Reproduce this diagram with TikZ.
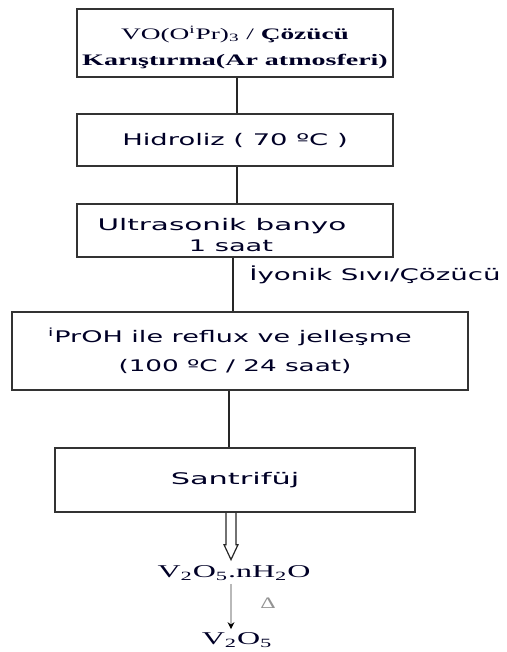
\documentclass[tikz,border=0pt]{standalone}
\usepackage{fontspec}
\setmainfont{Liberation Serif}
\newfontfamily\boxfont{DejaVu Sans}
\usepackage{graphicx}
\usetikzlibrary{arrows.meta}
\newcommand{\wide}[2][1.7]{\scalebox{#1}[1]{#2}}
\begin{document}
\begin{tikzpicture}[x=1pt,y=-1pt,
  stepbox/.style={draw=black!80,line width=1.3pt,inner sep=0pt,align=center,text=black!85!blue},
  sansbig/.style={font=\boxfont\fontsize{16}{19}\selectfont},
  link/.style={draw=black!85,line width=1.3pt}]
\useasboundingbox (0,0) rectangle (506,652);
% process boxes:
\node[stepbox,minimum width=316pt,minimum height=68pt,font=\fontsize{16}{19}\selectfont] (mix) at (235,43)
  {\rule{0pt}{22pt}\wide[1.71]{VO(O\textsuperscript{i}Pr)\textsubscript{3} / \textbf{Çözücü}}\\[7pt]\wide[1.75]{\textbf{Karıştırma(Ar atmosferi)}}};
\node[stepbox,sansbig,minimum width=316pt,minimum height=52pt] (hydro) at (235,140)
  {\wide[1.71]{Hidroliz ( 70 ºC )}};
\node[stepbox,sansbig,minimum width=316pt,minimum height=53pt] (ultra) at (235,230.5)
  {\rule{0pt}{22pt}\wide[1.84]{Ultrasonik banyo}\hspace*{26pt}\\[2pt]\wide[1.7]{1 saat}\hspace*{8pt}};
\node[stepbox,sansbig,minimum width=456pt,minimum height=78pt] (reflux) at (240,351)
  {\wide[1.69]{\textsuperscript{i}PrOH ile reflux ve jelleşme}\hspace*{20pt}\\[10pt]\wide[1.64]{(100 ºC / 24 saat)}\hspace*{10pt}};
\node[stepbox,sansbig,minimum width=360pt,minimum height=64pt] (centri) at (235,480)
  {\wide[1.9]{Santrifüj}};
% side label:
\node[sansbig,text=black!85!blue] (ionic) at (375,275) {\wide[1.73]{İyonik Sıvı/Çözücü}};
% products:
\node[font=\fontsize{18}{21}\selectfont,text=black!85!blue] (gel) at (234,573)
  {\wide[1.78]{V\textsubscript{2}O\textsubscript{5}.nH\textsubscript{2}O}};
\node[font=\fontsize{18}{21}\selectfont,text=black!85!blue] (oxide) at (237,640)
  {\wide[1.78]{V\textsubscript{2}O\textsubscript{5}}};
% connectors:
\path[link] ([xshift=2pt]mix.south) -- ([xshift=2pt]mix.south |- hydro.north);
\path[link] ([xshift=2pt]hydro.south) -- ([xshift=2pt]hydro.south |- ultra.north);
\path[link] ([xshift=-2pt]ultra.south) -- ([xshift=-2pt]ultra.south |- reflux.north);
\path[link] ([xshift=-11pt]reflux.south) -- ([xshift=-11pt]reflux.south |- centri.north);
\path[link,line width=1.2pt] ([xshift=-4pt]centri.south) ++(-5,0) -- ++(0,32) -- ++(-2,0)
  -- ++(7,15) -- ++(7,-15) -- ++(-2,0) -- ++(0,-32);
\draw[gray!55,line width=2pt,-{Stealth[black,length=7pt,width=7pt]}] ([xshift=-3pt]gel.south) -- ([xshift=-3pt]gel.south |- oxide.north);
\node[text=gray!85,font=\fontsize{16}{18}\selectfont] (heat) at (268,603) {\wide[1.5]{Δ}};
\end{tikzpicture}
\end{document}
